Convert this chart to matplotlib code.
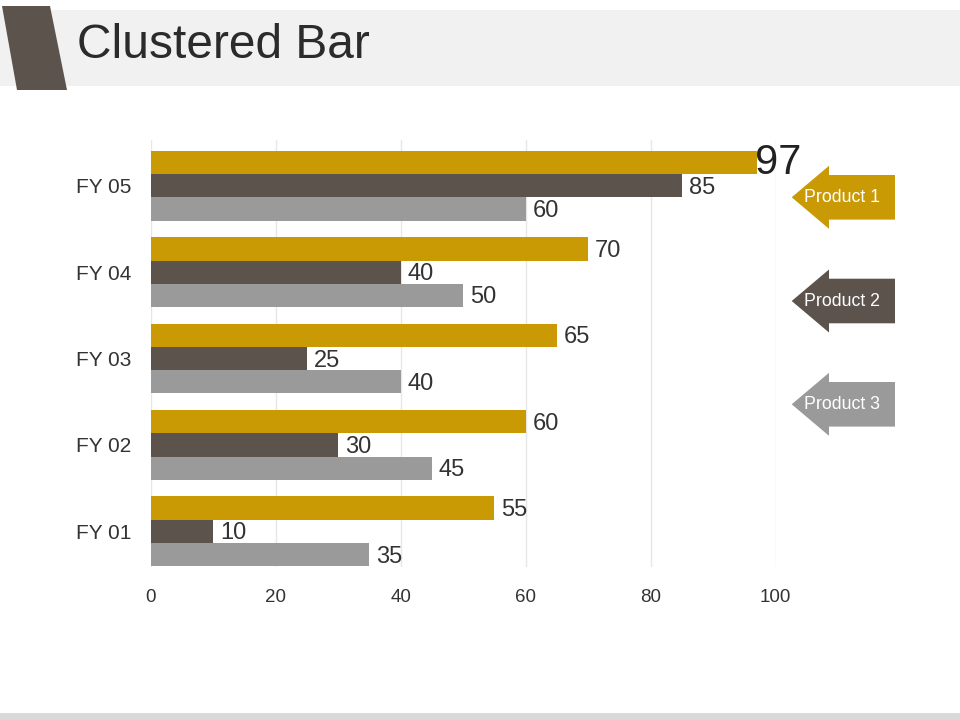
import matplotlib
matplotlib.use("Agg")
import matplotlib.pyplot as plt
from matplotlib.patches import Polygon, Rectangle
import numpy as np

plt.rcParams['font.family'] = ['Liberation Sans', 'DejaVu Sans']

categories = ["FY 01", "FY 02", "FY 03", "FY 04", "FY 05"]
product1 = [55, 60, 65, 70, 97]
product2 = [10, 30, 25, 40, 85]
product3 = [35, 45, 40, 50, 60]
series_names = ["Product 1", "Product 2", "Product 3"]
xticks = [0, 20, 40, 60, 80, 100]

colors = ["#C99A04", "#5B534C", "#9A9A9A"]

W, H = 960, 720
fig = plt.figure(figsize=(9.6, 7.2), dpi=100)
fig.patch.set_facecolor("white")

def fx(px):
    return px / W

def fy(py):
    return 1 - py / H

# header band
fig.patches.append(Rectangle((0, fy(86)), 1, (86 - 10) / H, transform=fig.transFigure,
                             facecolor="#F1F1F1", edgecolor="none", zorder=0))
fig.patches.append(Polygon([(fx(2), fy(6)), (fx(50), fy(6)), (fx(67), fy(90)), (fx(17), fy(90))],
                           closed=True, transform=fig.transFigure,
                           facecolor="#5B534C", edgecolor="none", zorder=1))
fig.text(fx(77), fy(45), "Clustered Bar", fontsize=34.5, color="#2B2B2B",
         ha="left", va="center")
# footer band
fig.patches.append(Rectangle((0, 0), 1, 7 / H, transform=fig.transFigure,
                             facecolor="#D9D9D9", edgecolor="none", zorder=0))

# axes
ax_left, ax_right, ax_top, ax_bot = 150.7, 775.7, 140, 567
ax = fig.add_axes([fx(ax_left), fy(ax_bot), (ax_right - ax_left) / W, (ax_bot - ax_top) / H])
ax.set_facecolor("none")

y = np.arange(len(categories))
h = 0.269
series = [product1, product2, product3]
offsets = [h, 0, -h]
for vals, off, col in zip(series, offsets, colors):
    ax.barh(y + off, vals, height=h, color=col, edgecolor="none", zorder=2)
    for yi, v in zip(y, vals):
        if v == max(product1) and vals is product1:
            ax.annotate(str(v), (v, yi + off), xytext=(-1.5, 0), textcoords="offset points",
                        ha="left", va="center", fontsize=30, color="#222222",
                        annotation_clip=False, zorder=3)
        else:
            ax.annotate(str(v), (v, yi + off), xytext=(5, -1.5), textcoords="offset points",
                        ha="left", va="center", fontsize=17, color="#333333",
                        annotation_clip=False, zorder=3)

ax.set_xlim(0, 100)
ax.set_ylim(-0.413, 4.53)
ax.set_xticks(xticks)
ax.set_xticklabels([str(t) for t in xticks], fontsize=13.5, color="#333333")
ax.set_yticks(y)
ax.set_yticklabels(categories, fontsize=15, color="#333333")
ax.tick_params(axis="both", length=0)
ax.tick_params(axis="x", pad=16)
ax.tick_params(axis="y", pad=14)
ax.grid(axis="x", color="#E6E6E6", linewidth=1, zorder=0)
ax.set_axisbelow(True)
for s in ax.spines.values():
    s.set_visible(False)

# legend arrows
arrow_specs = [(197.3, "Product 1"), (301.0, "Product 2"), (404.3, "Product 3")]
for (cy, name), col in zip(arrow_specs, colors):
    tip_x, head_x, right_x = 791.7, 829, 895
    head_half, body_half = 31.5, 22.3
    pts = [(tip_x, cy), (head_x, cy - head_half), (head_x, cy - body_half),
           (right_x, cy - body_half), (right_x, cy + body_half), (head_x, cy + body_half),
           (head_x, cy + head_half)]
    fig.patches.append(Polygon([(fx(px), fy(py)) for px, py in pts], closed=True,
                               transform=fig.transFigure, facecolor=col, edgecolor="none",
                               zorder=2))
    fig.text(fx(842), fy(cy), name, fontsize=12.8, color="white", ha="center",
             va="center", zorder=3)

fig.savefig("out.png", dpi=100)
